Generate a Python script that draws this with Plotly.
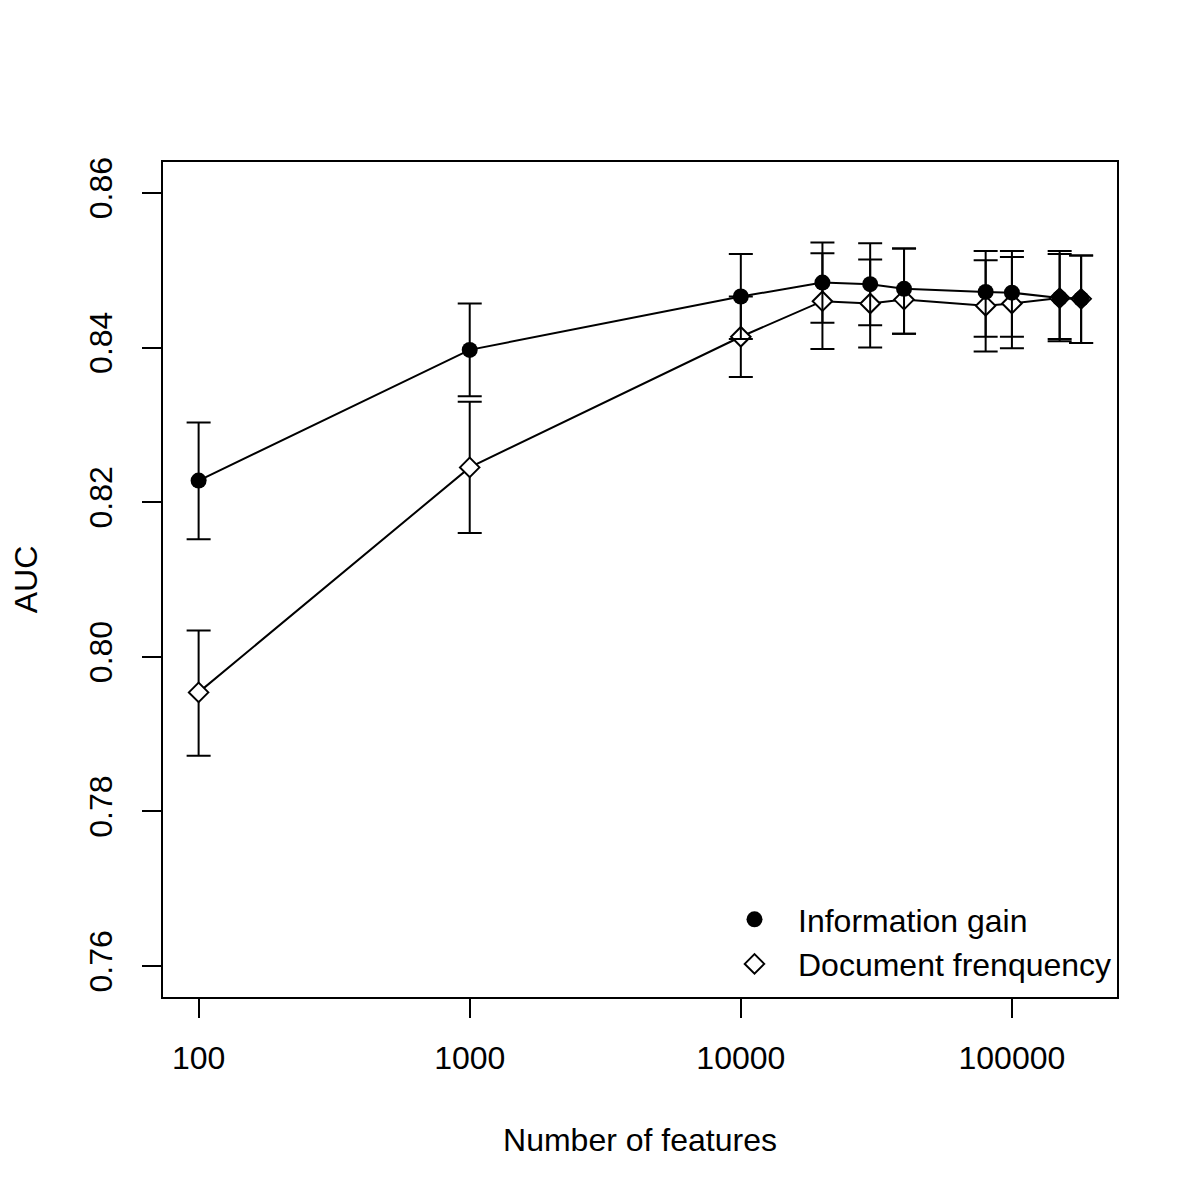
import plotly.graph_objects as go

features = [100, 1000, 10000, 20000, 30000, 40000, 80000, 100000, 150000, 180000]

ig_mean = [0.8228, 0.8397, 0.8466, 0.8484, 0.8482, 0.8476, 0.8472, 0.8471, 0.8464, 0.8463]
ig_upper = [0.8303, 0.8457, 0.8521, 0.8536, 0.8535, 0.8528, 0.8525, 0.8525, 0.8525, 0.8519]
ig_lower = [0.8152, 0.8337, 0.8411, 0.8432, 0.8429, 0.8418, 0.8414, 0.8414, 0.8408, 0.8406]

df_mean = [0.7954, 0.8245, 0.8414, 0.8460, 0.8457, 0.8462, 0.8454, 0.8457, 0.8464, 0.8463]
df_upper = [0.8034, 0.8330, 0.8466, 0.8522, 0.8514, 0.8528, 0.8513, 0.8517, 0.8521, 0.8519]
df_lower = [0.7872, 0.8160, 0.8362, 0.8398, 0.8400, 0.8418, 0.8395, 0.8399, 0.8411, 0.8406]

x_ticks = [100, 1000, 10000, 100000]
x_tick_labels = ["100", "1000", "10000", "100000"]
y_ticks = [0.76, 0.78, 0.80, 0.82, 0.84, 0.86]
y_tick_labels = ["0.76", "0.78", "0.80", "0.82", "0.84", "0.86"]

FONT = "Liberation Sans, Arial, Helvetica, sans-serif"
FS = 32

def err(mean, upper, lower):
    return dict(
        type="data", symmetric=False,
        array=[u - m for u, m in zip(upper, mean)],
        arrayminus=[m - l for m, l in zip(mean, lower)],
        color="black", thickness=2, width=12,
    )

fig = go.Figure()

# Document frequency (drawn first, open diamonds with white fill)
fig.add_trace(go.Scatter(
    x=features, y=df_mean, mode="lines+markers", showlegend=False,
    line=dict(color="black", width=2),
    marker=dict(symbol="diamond", size=15, color="white", line=dict(color="black", width=2)),
    error_y=err(df_mean, df_upper, df_lower),
))

# Information gain (filled circles)
fig.add_trace(go.Scatter(
    x=features, y=ig_mean, mode="lines+markers", showlegend=False,
    line=dict(color="black", width=2),
    marker=dict(symbol="circle", size=16, color="black"),
    error_y=err(ig_mean, ig_upper, ig_lower),
))

# Legend entries (markers only, as in the original)
fig.add_trace(go.Scatter(
    x=[None], y=[None], mode="markers", name="Information gain",
    marker=dict(symbol="circle", size=16, color="black"),
))
fig.add_trace(go.Scatter(
    x=[None], y=[None], mode="markers", name="Document frenquency",
    marker=dict(symbol="diamond", size=15, color="white", line=dict(color="black", width=2)),
))

fig.update_layout(
    width=1200, height=1200,
    margin=dict(l=153, r=91, t=154, b=211),
    paper_bgcolor="white", plot_bgcolor="white",
    font=dict(family=FONT, size=FS, color="black"),
    showlegend=True,
    legend=dict(
        x=1, y=0.006, xanchor="right", yanchor="bottom",
        bgcolor="rgba(0,0,0,0)", borderwidth=0,
        font=dict(family=FONT, size=FS, color="black"),
        itemsizing="trace", itemwidth=77, tracegroupgap=0,
    ),
)

fig.update_xaxes(
    type="log", range=[1.8686, 5.3876],
    tickmode="array", tickvals=x_ticks, ticktext=x_tick_labels,
    ticks="outside", ticklen=19, tickwidth=2, tickcolor="black",
    showline=True, linecolor="black", linewidth=2, mirror=True,
    showgrid=False, zeroline=False,
    tickfont=dict(family=FONT, size=FS),
    ticklabelstandoff=13,
    title=dict(text="Number of features", font=dict(family=FONT, size=FS), standoff=53),
)

fig.update_yaxes(
    range=[0.756, 0.864],
    tickmode="array", tickvals=y_ticks, ticktext=y_tick_labels,
    tickangle=-90,
    ticks="outside", ticklen=19, tickwidth=2, tickcolor="black",
    showline=True, linecolor="black", linewidth=2, mirror=True,
    showgrid=False, zeroline=False,
    tickfont=dict(family=FONT, size=FS),
    ticklabelstandoff=17,
    title=dict(text="AUC", font=dict(family=FONT, size=FS), standoff=41),
)

fig.write_html("out.html")
